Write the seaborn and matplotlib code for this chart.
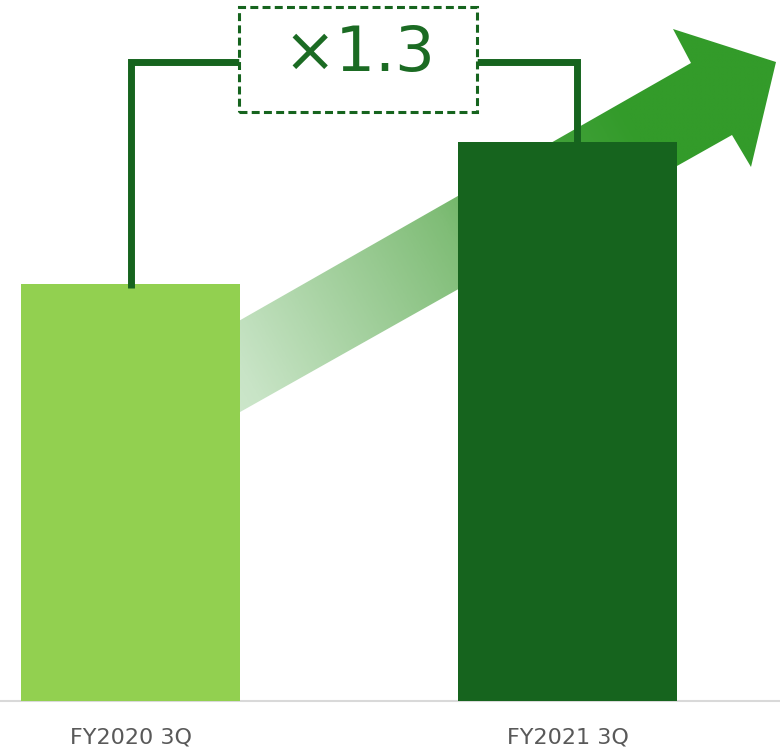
import numpy as np
import pandas as pd
import matplotlib
matplotlib.use("Agg")
import matplotlib.pyplot as plt
from matplotlib.patches import Polygon, Rectangle
from matplotlib.colors import LinearSegmentedColormap
import seaborn as sns

# Quarterly values (FY2020 3Q indexed to 100)
categories = ["FY2020 3Q", "FY2021 3Q"]
values = [100, 134]
bar_colors = ["#92D050", "#16641E"]
growth_label = "×1.3"

sns.set_theme(style="white")
plt.rcParams["font.family"] = ["DejaVu Sans"]

W, H = 780, 750
fig = plt.figure(figsize=(W / 100, H / 100), dpi=100)
base_px = 701
ax = fig.add_axes([0, (H - base_px) / H, 1, base_px / H])

df = pd.DataFrame({"period": categories, "value": values})
sns.barplot(data=df, x="period", y="value", hue="period", palette=bar_colors,
            width=0.5, legend=False, ax=ax, zorder=3, saturation=1,
            linewidth=0, edgecolor="none")

# scale: 437 px between bar centres, 4.17 px per value unit
px_per_x = 437.0
px_per_y = 4.17
x0_px = 130.5
ax.set_xlim(-x0_px / px_per_x, (W - x0_px) / px_per_x)
ax.set_ylim(0, base_px / px_per_y)


def to_data(px, py):
    return ((px - x0_px) / px_per_x, (base_px - py) / px_per_y)


# growth arrow with gradient fill, behind the bars
arrow_px = [(130, 383), (691, 63), (673, 29), (776, 62), (751, 167),
            (732, 135), (130, 474)]
arrow_pts = [to_data(*p) for p in arrow_px]
arrow = Polygon(arrow_pts, closed=True, facecolor="none", edgecolor="none",
                transform=ax.transData)
ax.add_patch(arrow)

theta = np.arctan2(383 - 63, 691 - 130)
nx, ny = 600, 500
gx_d = np.linspace(ax.get_xlim()[0], ax.get_xlim()[1], nx)
gy_d = np.linspace(ax.get_ylim()[0], ax.get_ylim()[1], ny)
GX, GY = np.meshgrid(gx_d, gy_d)
PX = x0_px + GX * px_per_x
PY = base_px - GY * px_per_y
s = (PX - 130) * np.cos(theta) - (PY - 428.5) * np.sin(theta)
eq_x = 130 + s * np.cos(theta)
norm_x = np.clip((eq_x - 130) / (776 - 130), 0, 1)

stops = [(0.0, "#DDEFDB"), ((240 - 130) / 646, "#C8E4C6"),
         ((455 - 130) / 646, "#80BD77"), ((570 - 130) / 646, "#42A13A"),
         ((640 - 130) / 646, "#339B2A"), (1.0, "#339B2A")]
cmap = LinearSegmentedColormap.from_list("growth", stops)
img = ax.imshow(norm_x, cmap=cmap, vmin=0, vmax=1, origin="lower",
                extent=[gx_d[0], gx_d[-1], gy_d[0], gy_d[-1]],
                aspect="auto", zorder=1, interpolation="bilinear")
img.set_clip_path(arrow)

# bracket linking the two bars
line_color = "#16641E"
lx0, ly_top = to_data(130.5, 61.5)
box_l, box_b = to_data(239, 112)
box_r, box_t = to_data(477, 7)
rx, _ = to_data(577, 0)
ax.plot([0, 0, box_l], [values[0] - 1, ly_top, ly_top], color=line_color,
        lw=5, solid_joinstyle="miter", solid_capstyle="butt", zorder=4)
ax.plot([box_r, rx, rx], [ly_top, ly_top, values[1]], color=line_color,
        lw=5, solid_joinstyle="miter", solid_capstyle="butt", zorder=2)

box = Rectangle((box_l, box_b), box_r - box_l, box_t - box_b,
                facecolor="white", edgecolor=line_color, lw=2.2,
                linestyle=(0, (2.6, 1.4)), zorder=5)
ax.add_patch(box)
tx, ty = to_data(359, 54)
ax.text(tx, ty, growth_label, ha="center", va="center", fontsize=45,
        color="#1B6B23", zorder=6)

# axes styling
for side in ["left", "right", "top"]:
    ax.spines[side].set_visible(False)
ax.spines["bottom"].set_color("#D9D9D9")
ax.spines["bottom"].set_linewidth(1.5)
ax.set_yticks([])
ax.set_xlabel("")
ax.set_ylabel("")
ax.tick_params(axis="x", length=0, pad=19, labelsize=16, labelcolor="#595959")

fig.savefig("out.png", dpi=100)
